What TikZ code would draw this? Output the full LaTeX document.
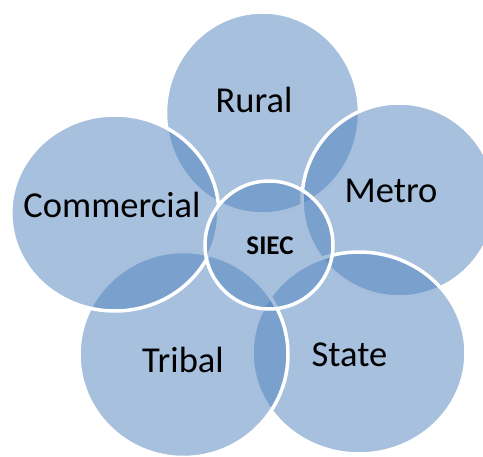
\documentclass[tikz,border=0pt]{standalone}
\usepackage{fontspec}
\setmainfont{Carlito}
\definecolor{bubblecol}{RGB}{79,129,189}
\tikzset{
  bubble/.style={fill=bubblecol, fill opacity=0.5, draw=white, line width=3.5pt},
  lbl/.style={anchor=base, inner sep=0pt, text=black, font=\fontsize{36.5}{40}\selectfont},
  centerlbl/.style={anchor=base, inner sep=0pt, text=black, font=\fontsize{27}{30}\selectfont\bfseries}
}
\begin{document}
\begin{tikzpicture}[x=1pt,y=-1pt]
\useasboundingbox (0,0) rectangle (483,457);
\clip (0,0) rectangle (483,457);
% circles, back to front
\path[bubble] (262.5,113) ellipse [x radius=97, y radius=101];   % Rural
\path[bubble] (399,200) ellipse [x radius=97, y radius=97];      % Metro
\path[bubble] (359,353) ellipse [x radius=107, y radius=101];    % State
\path[bubble] (183.5,354.5) ellipse [x radius=104.5, y radius=103]; % Tribal
\path[bubble] (114.8,213) ellipse [x radius=104, y radius=98];   % Commercial
\path[bubble] (269,245) circle [radius=64];                      % SIEC
% labels
\node[lbl] (rural) at (254,113) {Rural};
\node[lbl] (metro) at (391,203) {Metro};
\node[lbl] (commercial) at (112,218) {Commercial};
\node[lbl] (tribal) at (183,372.5) {Tribal};
\node[lbl] (state) at (349.5,366.5) {State};
\node[centerlbl] (siec) at (270,255) {SIEC};
\end{tikzpicture}
\end{document}
